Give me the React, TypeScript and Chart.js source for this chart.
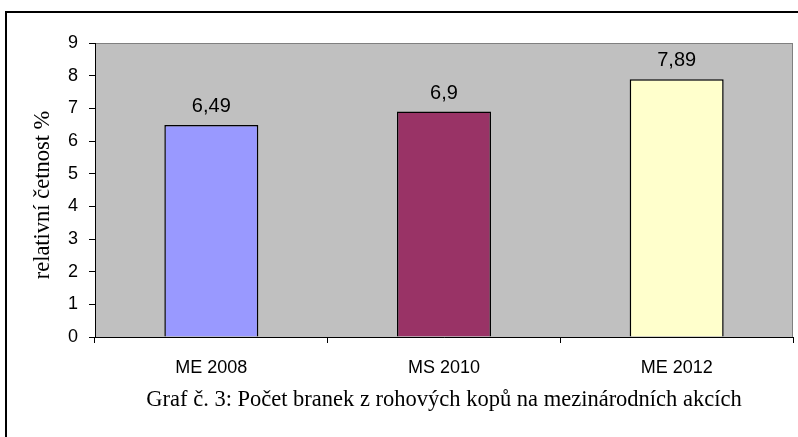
import React, { useEffect, useRef } from "react";
import { Chart, registerables } from "chart.js";

Chart.register(...registerables);

const categories = ["ME 2008", "MS 2010", "ME 2012"];
const values = [6.49, 6.9, 7.89];
const barColors = ["#9999FF", "#993366", "#FFFFCC"];
const yTicks = [0, 1, 2, 3, 4, 5, 6, 7, 8, 9];
const yTitle = "relativní četnost %";
const caption = "Graf č. 3: Počet branek z rohových kopů na mezinárodních akcích";

const SANS = '"Liberation Sans", Arial, sans-serif';
const SERIF = '"Liberation Serif", "Times New Roman", serif';

const framePlugin = {
  id: "frame",
  beforeDraw(chart: any) {
    const { ctx, chartArea } = chart;
    ctx.save();
    ctx.fillStyle = "#FFFFFF";
    ctx.fillRect(0, 0, chart.width, chart.height);
    ctx.fillStyle = "#C0C0C0";
    ctx.fillRect(chartArea.left, chartArea.top, chartArea.right - chartArea.left, chartArea.bottom - chartArea.top);
    ctx.strokeStyle = "#808080";
    ctx.lineWidth = 1;
    ctx.strokeRect(chartArea.left + 0.5, chartArea.top + 0.5, chartArea.right - chartArea.left - 1, chartArea.bottom - chartArea.top);
    ctx.strokeStyle = "#000000";
    ctx.lineWidth = 2;
    ctx.beginPath();
    ctx.moveTo(6, chart.height);
    ctx.lineTo(6, 12);
    ctx.lineTo(chart.width, 12);
    ctx.stroke();
    ctx.restore();
  },
  afterDraw(chart: any) {
    const { ctx, chartArea } = chart;
    ctx.save();
    ctx.fillStyle = "#000000";
    ctx.font = `22.5px ${SERIF}`;
    ctx.textAlign = "center";
    ctx.textBaseline = "alphabetic";
    ctx.fillText(caption, (chartArea.left + chartArea.right) / 2, 406);
    ctx.translate(43, 195);
    ctx.rotate(-Math.PI / 2);
    ctx.textBaseline = "middle";
    ctx.fillText(yTitle, 0, 0);
    ctx.restore();
  },
};

const labelPlugin = {
  id: "valueLabels",
  afterDatasetsDraw(chart: any) {
    const { ctx } = chart;
    const meta = chart.getDatasetMeta(0);
    ctx.save();
    ctx.fillStyle = "#000000";
    ctx.font = `20px ${SANS}`;
    ctx.textAlign = "center";
    ctx.textBaseline = "alphabetic";
    meta.data.forEach((bar: any, i: number) => {
      const txt = String(values[i]).replace(".", ",");
      ctx.fillText(txt, bar.x, bar.y - 13);
    });
    ctx.restore();
  },
};

export default function App() {
  const ref = useRef<HTMLCanvasElement>(null);
  useEffect(() => {
    document.body.style.margin = "0";
    const chart = new Chart(ref.current as HTMLCanvasElement, {
      type: "bar",
      data: {
        labels: categories,
        datasets: [
          {
            data: values,
            backgroundColor: barColors,
            borderColor: "#000000",
            borderWidth: 1.5,
            categoryPercentage: 1,
            barPercentage: 0.404,
          },
        ],
      },
      options: {
        responsive: false,
        animation: false,
        layout: { padding: { left: 0, right: 5, top: 43, bottom: 0 } },
        plugins: {
          legend: { display: false },
          tooltip: { enabled: false },
          title: { display: false },
        },
        scales: {
          x: {
            afterFit: (s: any) => {
              s.height = 100;
            },
            grid: {
              offset: true,
              drawOnChartArea: false,
              drawTicks: true,
              tickLength: 6,
              color: "#000000",
            },
            border: { display: true, color: "#000000", width: 1 },
            ticks: {
              color: "#000000",
              font: { family: SANS, size: 18 },
              padding: 14,
              maxRotation: 0,
            },
          },
          y: {
            min: 0,
            max: 9,
            afterFit: (s: any) => {
              s.width = 95;
            },
            afterBuildTicks: (s: any) => {
              s.ticks = yTicks.map((v) => ({ value: v }));
            },
            grid: {
              drawOnChartArea: false,
              drawTicks: true,
              tickLength: 6,
              color: "#000000",
            },
            border: { display: true, color: "#000000", width: 1 },
            ticks: {
              color: "#000000",
              font: { family: SANS, size: 18 },
              padding: 11,
              stepSize: 1,
            },
          },
        },
      },
      plugins: [framePlugin, labelPlugin],
    });
    return () => chart.destroy();
  }, []);
  return <canvas ref={ref} width={798} height={437} style={{ display: "block" }} />;
}
